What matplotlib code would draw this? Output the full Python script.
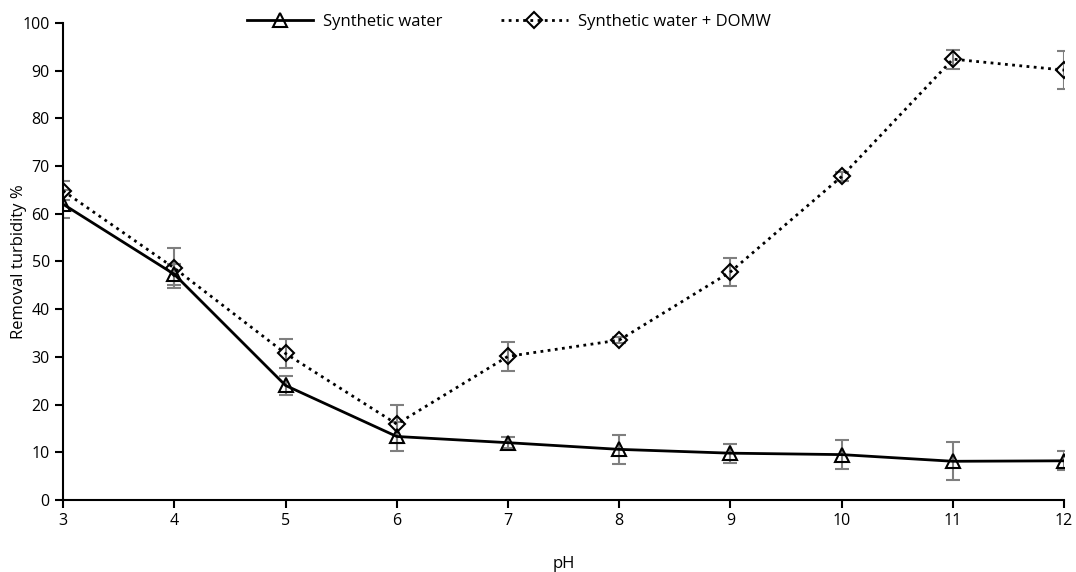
import matplotlib
matplotlib.use('Agg')
import matplotlib.pyplot as plt
import numpy as np

# set font
plt.rcParams['font.family'] = ['Open Sans', 'DejaVu Sans']

# data
ph = [3, 4, 5, 6, 7, 8, 9, 10, 11, 12]
synthetic = [62.0, 47.3, 24.0, 13.3, 12.0, 10.6, 9.8, 9.5, 8.1, 8.2]
synthetic_err = [3.0, 2.2, 2.0, 3.0, 1.2, 3.0, 2.0, 3.0, 4.0, 2.0]
domw = [64.8, 48.6, 30.7, 15.9, 30.1, 33.5, 47.8, 67.8, 92.4, 90.1]
domw_err = [2.0, 4.2, 3.0, 4.0, 3.0, 0.6, 3.0, 1.0, 2.0, 4.0]

fig = plt.figure(figsize=(10.76, 5.72), dpi=100)
ax = fig.add_axes([0.0586, 0.126, 0.9304, 0.834])

# error bars
ax.errorbar(ph, synthetic, yerr=synthetic_err, fmt='none', ecolor='#7f7f7f',
            elinewidth=1.5, capsize=5, capthick=1.5, zorder=1)
ax.errorbar(ph, domw, yerr=domw_err, fmt='none', ecolor='#7f7f7f',
            elinewidth=1.5, capsize=5, capthick=1.5, zorder=1)

# draw lines
ax.plot(ph, synthetic, color='black', linewidth=2, marker='^', markersize=10,
        markerfacecolor='none', markeredgecolor='black', markeredgewidth=1.5,
        label='Synthetic water', zorder=3)
ax.plot(ph, domw, color='black', linewidth=2, linestyle=(0, (1, 1.6)), marker='D',
        markersize=8, markerfacecolor='none', markeredgecolor='black',
        markeredgewidth=1.5, label='Synthetic water + DOMW', zorder=3)

ax.set_xlim(3, 12)
ax.set_ylim(0, 100)
ax.set_xticks(ph)
ax.set_yticks(np.arange(0, 101, 10))
ax.tick_params(axis='both', labelsize=11.5, direction='out', length=6, width=1.5)

for side in ['top', 'right']:
    ax.spines[side].set_visible(False)
for side in ['left', 'bottom']:
    ax.spines[side].set_linewidth(1.5)

ax.set_xlabel('pH', fontsize=12)
ax.set_ylabel('Removal turbidity %', fontsize=12)
ax.yaxis.set_label_coords(-0.036, 0.5)
ax.xaxis.set_label_coords(0.5, -0.118)

ax.legend(loc='upper center', bbox_to_anchor=(0.445, 1.05), ncol=2, frameon=False,
          fontsize=12, handlelength=4, columnspacing=3.5, handletextpad=0.6)

fig.savefig('out.png', dpi=100)
